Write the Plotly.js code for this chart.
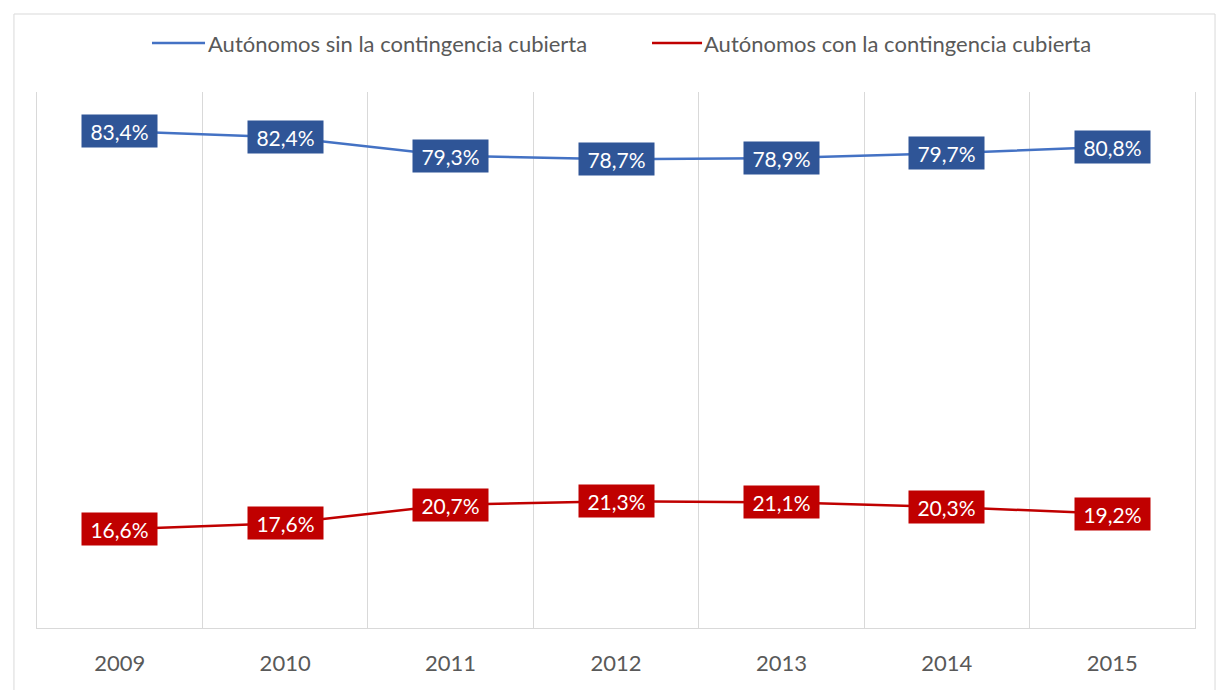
<!DOCTYPE html>
<html>
<head>
<meta charset="utf-8">
<script src="https://cdn.plot.ly/plotly-3.0.1.min.js"></script>
<style>
  html, body { margin: 0; padding: 0; background: #fff; }
  #chart { width: 1229px; height: 690px; }
</style>
</head>
<body>
<div id="chart"></div>
<script>
const years = ['2009', '2010', '2011', '2012', '2013', '2014', '2015'];
const sinCubierta = [83.4, 82.4, 79.3, 78.7, 78.9, 79.7, 80.8];
const conCubierta = [16.6, 17.6, 20.7, 21.3, 21.1, 20.3, 19.2];
const seriesNames = ['Autónomos sin la contingencia cubierta', 'Autónomos con la contingencia cubierta'];
const lineColors = ['#4472C4', '#C00000'];
const boxColors = ['#2F5597', '#C00000'];

const fmt = v => v.toFixed(1).replace('.', ',') + '%';
const FONT = 'Lato, "Liberation Sans", sans-serif';

const traces = [sinCubierta, conCubierta].map((vals, i) => ({
  type: 'scatter',
  mode: 'lines',
  x: years,
  y: vals,
  name: seriesNames[i],
  line: { color: lineColors[i], width: 2.5 },
  hoverinfo: 'skip',
  showlegend: false
}));

const annotations = [];
[sinCubierta, conCubierta].forEach((vals, i) => {
  vals.forEach((v, j) => {
    annotations.push({
      x: j, y: v, xref: 'x', yref: 'y',
      text: fmt(v), showarrow: false,
      font: { family: FONT, size: 21, color: '#ffffff' },
      bgcolor: boxColors[i], borderpad: 3, width: 69, height: 26,
      xanchor: 'center', yanchor: 'middle'
    });
  });
});

// manual legend (paper coordinates)
const legendY = 1.0914;
const legendItems = [
  { x0: 0.0993, x1: 0.1451, tx: 0.1460 },
  { x0: 0.5311, x1: 0.5743, tx: 0.5745 }
];
const shapes = [{
  type: 'rect', xref: 'paper', yref: 'paper',
  x0: -0.0199, x1: 1.0173, y0: -0.125, y1: 1.1455,
  line: { color: '#d9d9d9', width: 1 }, fillcolor: 'rgba(0,0,0,0)', layer: 'below'
}];
legendItems.forEach((it, i) => {
  shapes.push({
    type: 'line', xref: 'paper', yref: 'paper',
    x0: it.x0, x1: it.x1, y0: legendY, y1: legendY,
    line: { color: lineColors[i], width: 2.5 }
  });
  annotations.push({
    xref: 'paper', yref: 'paper', x: it.tx, y: legendY,
    xanchor: 'left', yanchor: 'middle', showarrow: false,
    text: seriesNames[i], font: { family: FONT, size: 22, color: '#595959' }
  });
});

const layout = {
  width: 1229, height: 690,
  margin: { l: 37, r: 34, t: 92, b: 62, autoexpand: false },
  paper_bgcolor: '#ffffff', plot_bgcolor: '#ffffff',
  font: { family: FONT, color: '#595959' },
  showlegend: false,
  xaxis: {
    type: 'category', categoryorder: 'array', categoryarray: years,
    range: [-0.5, 6.5], autorange: false,
    tickson: 'boundaries', showgrid: true, gridcolor: '#d9d9d9', gridwidth: 1,
    showline: true, linecolor: '#d9d9d9', linewidth: 1, mirror: false,
    ticks: '', ticklabelstandoff: 16,
    tickfont: { size: 22, color: '#595959' }, tickangle: 0,
    fixedrange: true, zeroline: false
  },
  yaxis: {
    range: [0, 90], autorange: false, showgrid: false, showticklabels: false, zeroline: false,
    showline: true, linecolor: '#d9d9d9', linewidth: 1, mirror: true, ticks: '',
    fixedrange: true
  },
  annotations: annotations,
  shapes: shapes
};

Plotly.newPlot('chart', traces, layout, { displayModeBar: false, staticPlot: true });
</script>
</body>
</html>
